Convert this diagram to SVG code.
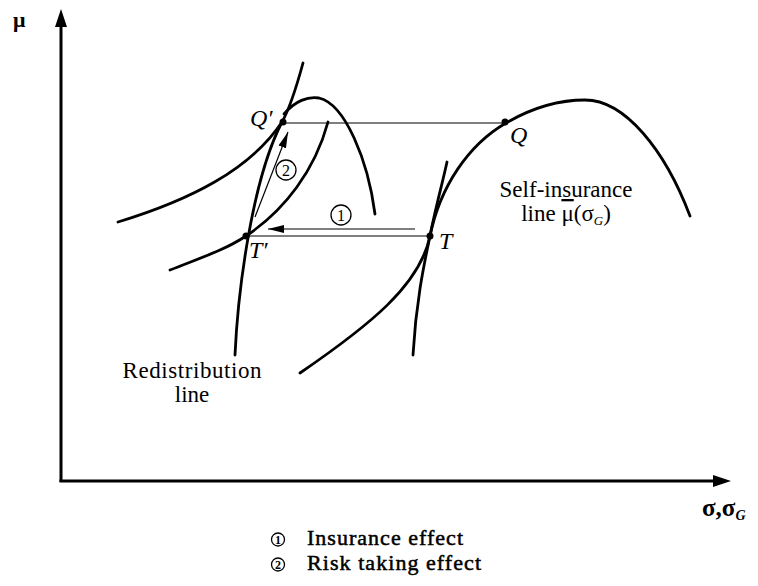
<svg xmlns="http://www.w3.org/2000/svg" width="758" height="586" viewBox="0 0 758 586">
<defs>
<style>
.thick{fill:none;stroke:#000;stroke-width:2.8;stroke-linecap:round}
.thin{fill:none;stroke:#000;stroke-width:1.2}
.axis{fill:none;stroke:#000;stroke-width:3}
.lbl{font-family:"Liberation Serif",serif;font-size:24px;font-style:italic;fill:#000}
.txt{font-family:"Liberation Serif",serif;font-size:23px;fill:#000}
.leg{font-family:"Liberation Serif",serif;font-size:22px;fill:#000;stroke:#000;stroke-width:0.5}
.num{font-family:"Liberation Serif",serif;font-size:16px;fill:#000;text-anchor:middle}
.lnum{font-family:"Liberation Serif",serif;font-size:12px;font-weight:bold;fill:#000;text-anchor:middle}
.circ{fill:none;stroke:#000;stroke-width:1.3}
.dot{fill:#000}
</style>
<marker id="ah" viewBox="0 0 16 8" refX="16" refY="4" markerWidth="16" markerHeight="8" markerUnits="userSpaceOnUse" orient="auto">
<path d="M0,0 L16,4 L0,8 Z" fill="#000"/>
</marker>
</defs>
<rect width="758" height="586" fill="#fff"/>

<g id="axes">
<line class="axis" x1="61" y1="482" x2="61" y2="24"/>
<polygon points="61,9 55,27 67,27" fill="#000"/>
<line class="axis" x1="59.5" y1="481" x2="715" y2="481"/>
<polygon points="731,481 713,475 713,487" fill="#000"/>
<text x="13" y="27" style="font-family:'Liberation Serif',serif;font-size:22px;font-weight:bold">μ</text>
<text x="702" y="516" style="font-family:'Liberation Serif',serif;font-size:25px;font-weight:bold">σ,σ<tspan dy="4" style="font-size:14px;font-style:italic">G</tspan></text>
</g>

<g id="curves">
<path id="redistribution-line" class="thick" d="M235,355 C238,290 252,180 282,122"/>
<path id="indiff-Qprime" class="thick" d="M118,222 C190,200 250,170 282,122 C290,108 297,85 303,63"/>
<path id="indiff-Tprime" class="thick" d="M170,270 C200,258 225,250 246,236 C285,210 315,170 328,122"/>
<path id="small-locus" class="thick" d="M284,114 C295,101 308,96 319,98 C345,104 368,160 375,214"/>
<path id="self-insurance-line" class="thick" d="M300,373 C370,325 420,285 430,236 C440,187 468,145 506,123 C530,109 558,100 585,100 C625,100 665,150 690,216"/>
<path id="indiff-T" class="thick" d="M413,355 C416,300 425,260 430,236 C435,210 442,185 447,162"/>
</g>

<g id="connectors">
<line class="thin" x1="283" y1="123" x2="505" y2="123"/>
<line class="thin" x1="246" y1="236" x2="430" y2="236"/>
<line class="thin" x1="415" y1="229" x2="268" y2="229" marker-end="url(#ah)"/>
<line class="thin" x1="255" y1="217" x2="288" y2="132" marker-end="url(#ah)"/>
</g>

<g id="point-Qprime">
<circle class="dot" cx="283" cy="122" r="3.5"/>
<text class="lbl" x="250" y="126">Q′</text>
</g>
<g id="point-Q">
<circle class="dot" cx="505" cy="122" r="3.5"/>
<text class="lbl" x="510" y="143">Q</text>
</g>
<g id="point-Tprime">
<circle class="dot" cx="246" cy="236" r="3.5"/>
<text class="lbl" x="249" y="258">T′</text>
</g>
<g id="point-T">
<circle class="dot" cx="430" cy="236" r="3.5"/>
<text class="lbl" x="439" y="249">T</text>
</g>

<g id="marker-1">
<circle class="circ" cx="341" cy="215" r="10"/>
<text class="num" x="341" y="220.5">1</text>
</g>
<g id="marker-2">
<circle class="circ" cx="286" cy="170" r="10"/>
<text class="num" x="286" y="175.5">2</text>
</g>

<g id="label-self-insurance">
<text class="txt" x="566" y="197" text-anchor="middle">Self-insurance</text>
<text class="txt" x="566" y="221" text-anchor="middle">line <tspan text-decoration="overline">μ</tspan>(σ<tspan dy="4" style="font-size:13px;font-style:italic">G</tspan><tspan dy="-4">)</tspan></text>
</g>
<g id="label-redistribution">
<text class="txt" x="192" y="378" text-anchor="middle" textLength="139">Redistribution</text>
<text class="txt" x="192" y="402" text-anchor="middle">line</text>
</g>

<g id="legend">
<circle class="circ" cx="278" cy="539.5" r="6.5"/>
<text class="lnum" x="278" y="543.8">1</text>
<text class="leg" x="307" y="545" textLength="156">Insurance effect</text>
<circle class="circ" cx="278" cy="564.5" r="6.5"/>
<text class="lnum" x="278" y="568.8">2</text>
<text class="leg" x="307" y="570" textLength="174">Risk taking effect</text>
</g>
</svg>
